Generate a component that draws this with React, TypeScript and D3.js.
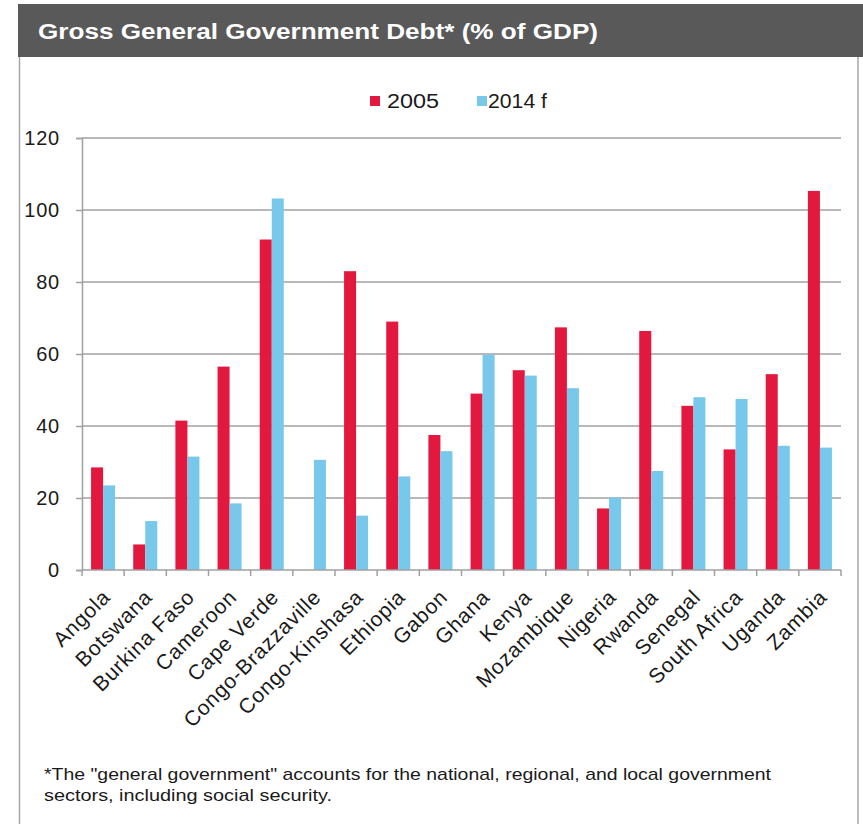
import React, { useEffect, useRef } from "react";
import * as d3 from "d3";

const categories = [
  "Angola", "Botswana", "Burkina Faso", "Cameroon", "Cape Verde", "Congo-Brazzaville",
  "Congo-Kinshasa", "Ethiopia", "Gabon", "Ghana", "Kenya", "Mozambique", "Nigeria",
  "Rwanda", "Senegal", "South Africa", "Uganda", "Zambia",
];
const debt2005 = [28.5, 7.1, 41.5, 56.5, 91.8, 0, 83.0, 69.0, 37.5, 49.0, 55.5, 67.4, 17.1, 66.4, 45.6, 33.5, 54.4, 105.3];
const debt2014 = [23.5, 13.6, 31.5, 18.5, 103.2, 30.6, 15.1, 26.0, 33.0, 59.8, 54.0, 50.5, 20.1, 27.5, 48.0, 47.5, 34.5, 34.0];
const seriesNames = ["2005", "2014 f"];
const yTicks = [0, 20, 40, 60, 80, 100, 120];
const titleText = "Gross General Government Debt* (% of GDP)";
const footnoteLines = [
  "*The \"general government\" accounts for the national, regional, and local government",
  "sectors, including social security.",
];

const W = 863;
const H = 824;
const COLORS = ["#E2183E", "#77C8EB"];
const FONT = "'Liberation Sans', Arial, sans-serif";

export default function App() {
  const ref = useRef<SVGSVGElement | null>(null);

  useEffect(() => {
    const svg = d3.select(ref.current);
    svg.selectAll("*").remove();

    const left = 82, right = 841, top = 138, bottom = 570;

    // panel
    svg.append("rect").attr("x", 0).attr("y", 0).attr("width", W).attr("height", H).attr("fill", "#fff");
    svg.append("line").attr("x1", 19.5).attr("x2", 19.5).attr("y1", 57).attr("y2", H).attr("stroke", "#A6A6A6").attr("stroke-width", 1.5);
    svg.append("line").attr("x1", 858).attr("x2", 858).attr("y1", 57).attr("y2", H).attr("stroke", "#A6A6A6").attr("stroke-width", 1.5);
    svg.append("rect").attr("x", 18).attr("y", 4).attr("width", W - 18).attr("height", 53).attr("fill", "#595959");
    svg.append("text").attr("x", 38).attr("y", 39).attr("fill", "#fff")
      .attr("font-family", FONT).attr("font-weight", "bold").attr("font-size", 22)
      .attr("textLength", 560).attr("lengthAdjust", "spacingAndGlyphs").text(titleText);

    const x0 = d3.scaleBand<string>().domain(categories).range([left, right]).padding(0);
    const bw = x0.bandwidth();
    const x1 = d3.scaleBand<string>().domain(seriesNames).range([bw * 0.215, bw * 0.785]).padding(0);
    const y = d3.scaleLinear().domain([0, 120]).range([bottom, top]);

    // gridlines
    svg.append("g").selectAll("line").data(yTicks.filter((t) => t > 0)).join("line")
      .attr("x1", left).attr("x2", right).attr("y1", (d) => y(d)).attr("y2", (d) => y(d))
      .attr("stroke", "#A0A0A0").attr("stroke-width", 1.5);

    // bars
    const values = [debt2005, debt2014];
    const g = svg.append("g");
    seriesNames.forEach((s, si) => {
      g.selectAll(`rect.s${si}`).data(categories).join("rect")
        .attr("class", `s${si}`)
        .attr("x", (c) => (x0(c) as number) + (x1(s) as number))
        .attr("width", x1.bandwidth())
        .attr("y", (c, i) => y(values[si][i]))
        .attr("height", (c, i) => bottom - y(values[si][i]))
        .attr("fill", COLORS[si]);
    });

    // y axis
    const yAxis = svg.append("g").attr("transform", `translate(${left},0)`)
      .call(d3.axisLeft(y).tickValues(yTicks).tickSize(6).tickPadding(16).tickFormat(d3.format("d")));
    yAxis.select(".domain").attr("stroke", "#A0A0A0").attr("stroke-width", 1.5);
    yAxis.selectAll(".tick line").attr("stroke", "#A0A0A0").attr("stroke-width", 1.5);
    yAxis.selectAll(".tick text").attr("font-family", FONT).attr("font-size", 20).attr("fill", "#1a1a1a").attr("letter-spacing", 0.8);

    // x axis
    svg.append("line").attr("x1", left).attr("x2", right).attr("y1", bottom).attr("y2", bottom)
      .attr("stroke", "#A0A0A0").attr("stroke-width", 1.5);
    const boundaries = categories.map((c) => x0(c) as number).concat([right]);
    svg.append("g").selectAll("line").data(boundaries).join("line")
      .attr("x1", (d) => d).attr("x2", (d) => d).attr("y1", bottom).attr("y2", bottom + 6)
      .attr("stroke", "#A0A0A0").attr("stroke-width", 1.5);
    svg.append("g").selectAll("text").data(categories).join("text")
      .attr("transform", (c) => `translate(${(x0(c) as number) + bw / 2 - 2},${bottom + 18}) rotate(-45)`)
      .attr("text-anchor", "end").attr("dy", "0.7em")
      .attr("font-family", FONT).attr("font-size", 21).attr("letter-spacing", 0.8).attr("fill", "#1a1a1a")
      .text((c) => c);

    // legend
    const leg = [
      { sx: 370, tx: 387, tl: 52 },
      { sx: 477, tx: 488, tl: 59 },
    ];
    seriesNames.forEach((s, i) => {
      svg.append("rect").attr("x", leg[i].sx).attr("y", 96).attr("width", 10).attr("height", 10).attr("fill", COLORS[i]);
      svg.append("text").attr("x", leg[i].tx).attr("y", 107.5).attr("font-family", FONT).attr("font-size", 20)
        .attr("fill", "#1a1a1a").attr("textLength", leg[i].tl).attr("lengthAdjust", "spacingAndGlyphs").text(s);
    });

    // footnote
    const fl = [727, 288];
    footnoteLines.forEach((t, i) => {
      svg.append("text").attr("x", 44).attr("y", 780 + i * 21).attr("font-family", FONT).attr("font-size", 17)
        .attr("fill", "#1a1a1a").attr("textLength", fl[i]).attr("lengthAdjust", "spacingAndGlyphs").text(t);
    });
  }, []);

  return (
    <div style={{ position: "absolute", left: 0, top: 0 }}>
      <svg ref={ref} width={W} height={H} style={{ display: "block" }} />
    </div>
  );
}
